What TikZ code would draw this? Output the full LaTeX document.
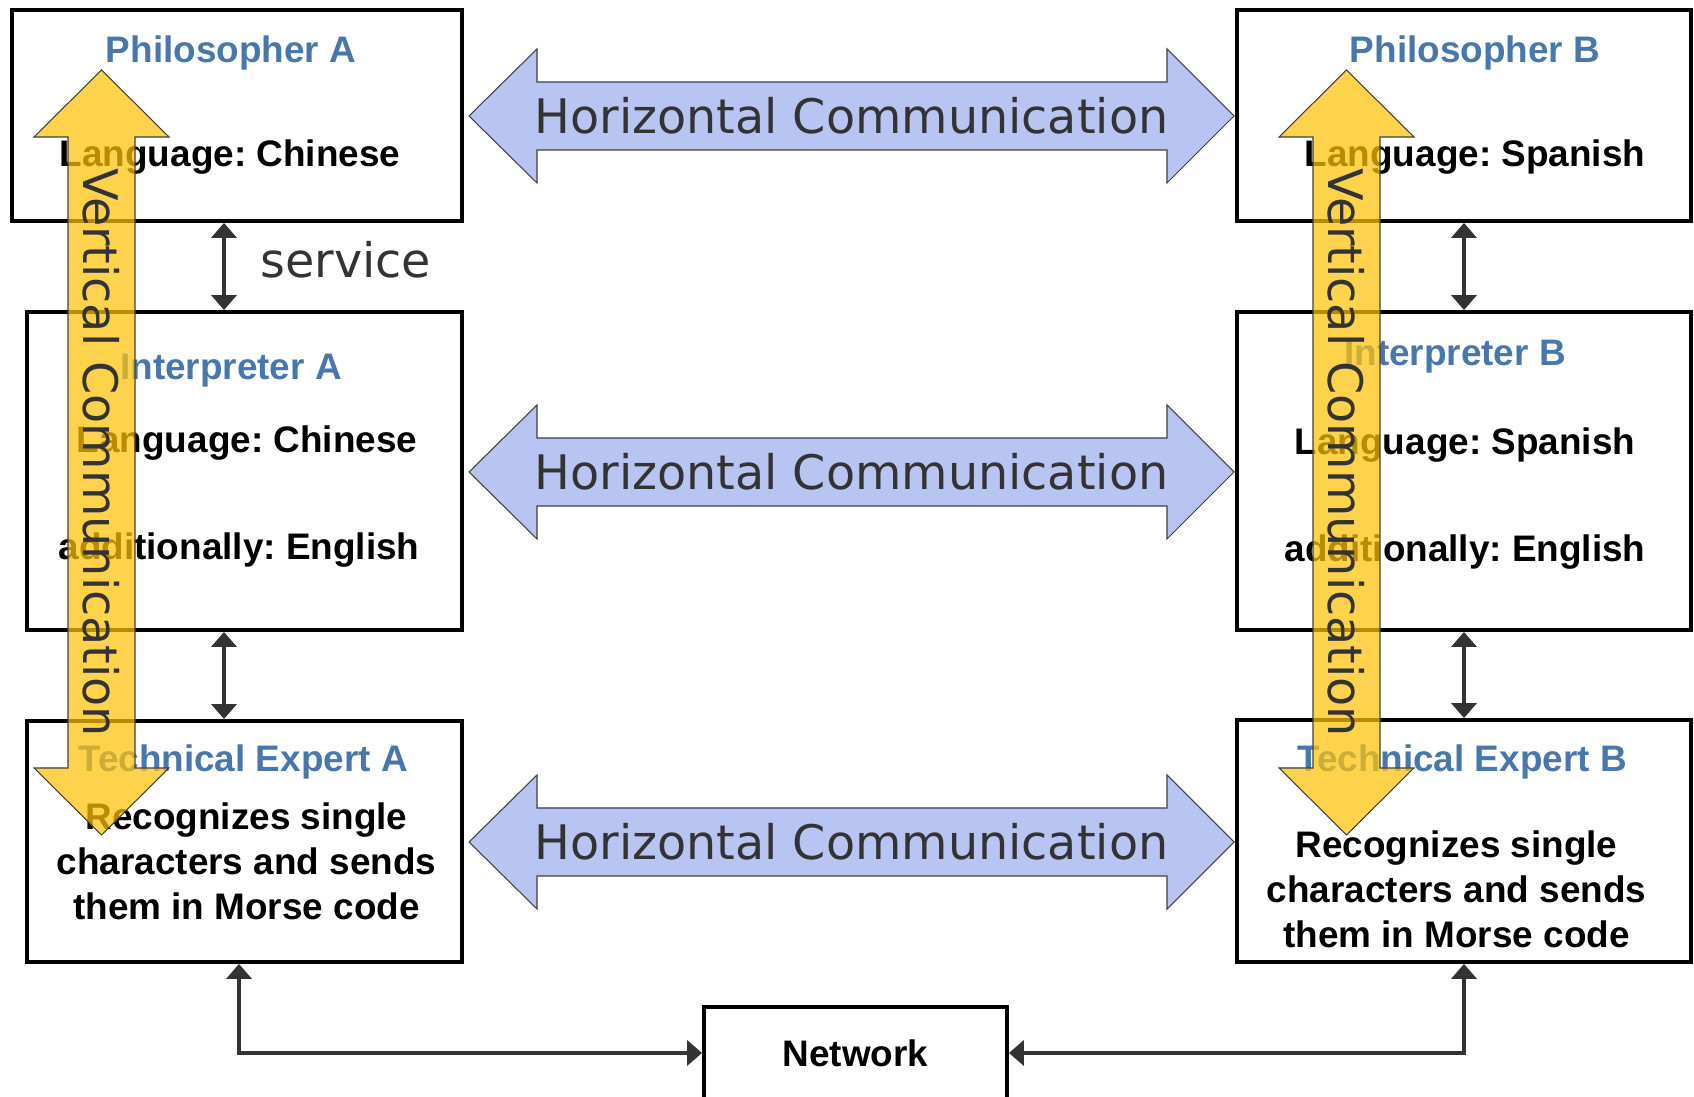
\documentclass[tikz,border=0pt]{standalone}
\usepackage{fontspec}
\usepackage{xcolor}
\usepackage{tikz}
\usetikzlibrary{positioning,calc,arrows.meta}

\newfontfamily\boxfont{Liberation Sans}
\newfontfamily\commfont{DejaVu Sans}

\definecolor{titleblue}{HTML}{4878AB}
\definecolor{commgray}{HTML}{333333}
\definecolor{hcommfill}{HTML}{B8C4F2}
\definecolor{vcommfill}{RGB}{255,194,8}

\newcommand{\hcommarrow}[1]{% #1 = y of the arrow axis
  \draw[hcomm] (9.38,#1) -- (10.74,#1+1.34) -- (10.74,#1+0.68) -- (23.34,#1+0.68)
    -- (23.34,#1+1.34) -- (24.68,#1) -- (23.34,#1-1.34) -- (23.34,#1-0.68)
    -- (10.74,#1-0.68) -- (10.74,#1-1.34) -- cycle;}
\newcommand{\vcommarrow}[1]{% #1 = x of the arrow axis
  \draw[vcomm] (#1,20.54) -- (#1+1.35,19.20) -- (#1+0.67,19.20) -- (#1+0.67,6.58)
    -- (#1+1.35,6.58) -- (#1,5.24) -- (#1-1.35,6.58) -- (#1-0.67,6.58)
    -- (#1-0.67,19.20) -- (#1-1.35,19.20) -- cycle;}

\begin{document}
\frenchspacing
\begin{tikzpicture}[
  layerbox/.style={draw=black, line width=2.2pt, fill=white, inner sep=0pt},
  titletext/.style={font=\boxfont\bfseries\fontsize{21}{25.6}\selectfont, text=titleblue, anchor=base},
  bodytext/.style={font=\boxfont\bfseries\fontsize{21}{25.6}\selectfont, anchor=base},
  link/.style={draw=commgray, line width=2.5pt,
    arrows={Triangle[width=0.5cm,length=0.3cm]-Triangle[width=0.5cm,length=0.3cm]}},
  hcomm/.style={draw=black!75, line width=0.6pt, fill=hcommfill},
  vcomm/.style={draw=black!75, line width=0.6pt, fill=vcommfill, fill opacity=0.72},
  commtext/.style={font=\commfont\fontsize{27.1}{30}\selectfont, text=commgray, inner sep=0pt},
]
  \useasboundingbox (0,0) rectangle (33.88,21.94);

  % Philosophers
  \node[layerbox, minimum width=9.0cm, minimum height=4.22cm] (phA) at (4.74,19.63) {};
  \node[titletext] (phAt) at (4.62,20.68) {Philosopher A};
  \node[bodytext] (phAl) at (4.60,18.60) {Language: Chinese};

  \node[layerbox, minimum width=9.08cm, minimum height=4.22cm] (phB) at (29.28,19.63) {};
  \node[titletext] (phBt) at (29.50,20.68) {Philosopher B};
  \node[bodytext] (phBl) at (29.50,18.60) {Language: Spanish};

  % Interpreters
  \node[layerbox, minimum width=8.70cm, minimum height=6.36cm] (inA) at (4.89,12.52) {};
  \node[titletext] (inAt) at (4.62,14.34) {Interpreter A};
  \node[bodytext] (inAl) at (4.94,12.88) {Language: Chinese};
  \node[bodytext] (inAe) at (4.78,10.74) {additionally: English};

  \node[layerbox, minimum width=9.08cm, minimum height=6.36cm] (inB) at (29.28,12.52) {};
  \node[titletext] (inBt) at (29.10,14.62) {Interpreter B};
  \node[bodytext] (inBl) at (29.30,12.84) {Language: Spanish};
  \node[bodytext] (inBe) at (29.30,10.70) {additionally: English};

  % Technical experts
  \node[layerbox, minimum width=8.70cm, minimum height=4.82cm] (tA) at (4.89,5.11) {};
  \node[titletext] (tAt) at (4.86,6.50) {Technical Expert A};
  \node[bodytext, anchor=center, align=center] (tAb) at (4.93,4.71)
    {Recognizes single\\characters and sends\\them in Morse code};

  \node[layerbox, minimum width=9.08cm, minimum height=4.84cm] (tB) at (29.28,5.12) {};
  \node[titletext] (tBt) at (29.24,6.50) {Technical Expert B};
  \node[bodytext, anchor=center, align=center] (tBb) at (29.13,4.15)
    {Recognizes single\\characters and sends\\them in Morse code};

  % Network
  \node[layerbox, minimum width=6.06cm, minimum height=1.84cm,
    font=\boxfont\bfseries\fontsize{21}{25.6}\selectfont] (net) at (17.11,0.88) {Network};

  % Services between the layers
  \coordinate (sA) at ([xshift=-0.26cm]phA.south);
  \coordinate (sA2) at ([xshift=-0.41cm]inA.south);
  \draw[link] (sA) -- (sA |- inA.north);
  \node[commtext, anchor=base west] (svc) at (5.20,16.38) {service};
  \draw[link] (sA2) -- (sA2 |- tA.north);
  \draw[link] (phB.south) -- (inB.north);
  \draw[link] (inB.south) -- (tB.north);
  \draw[link] ([xshift=-0.11cm]tA.south) |- (net.west);
  \draw[link] (net.east) -| (tB.south);

  % Horizontal communication
  \hcommarrow{19.62}
  \node[commtext] (hc1) at (17.03,19.62) {Horizontal Communication};
  \hcommarrow{12.50}
  \node[commtext] (hc2) at (17.03,12.50) {Horizontal Communication};
  \hcommarrow{5.10}
  \node[commtext] (hc3) at (17.03,5.10) {Horizontal Communication};

  % Vertical communication
  \vcommarrow{2.03}
  \node[commtext, rotate=-90] (vcA) at (2.03,12.89) {Vertical Communication};
  \vcommarrow{26.93}
  \node[commtext, rotate=-90] (vcB) at (26.93,12.89) {Vertical Communication};
\end{tikzpicture}
\end{document}
